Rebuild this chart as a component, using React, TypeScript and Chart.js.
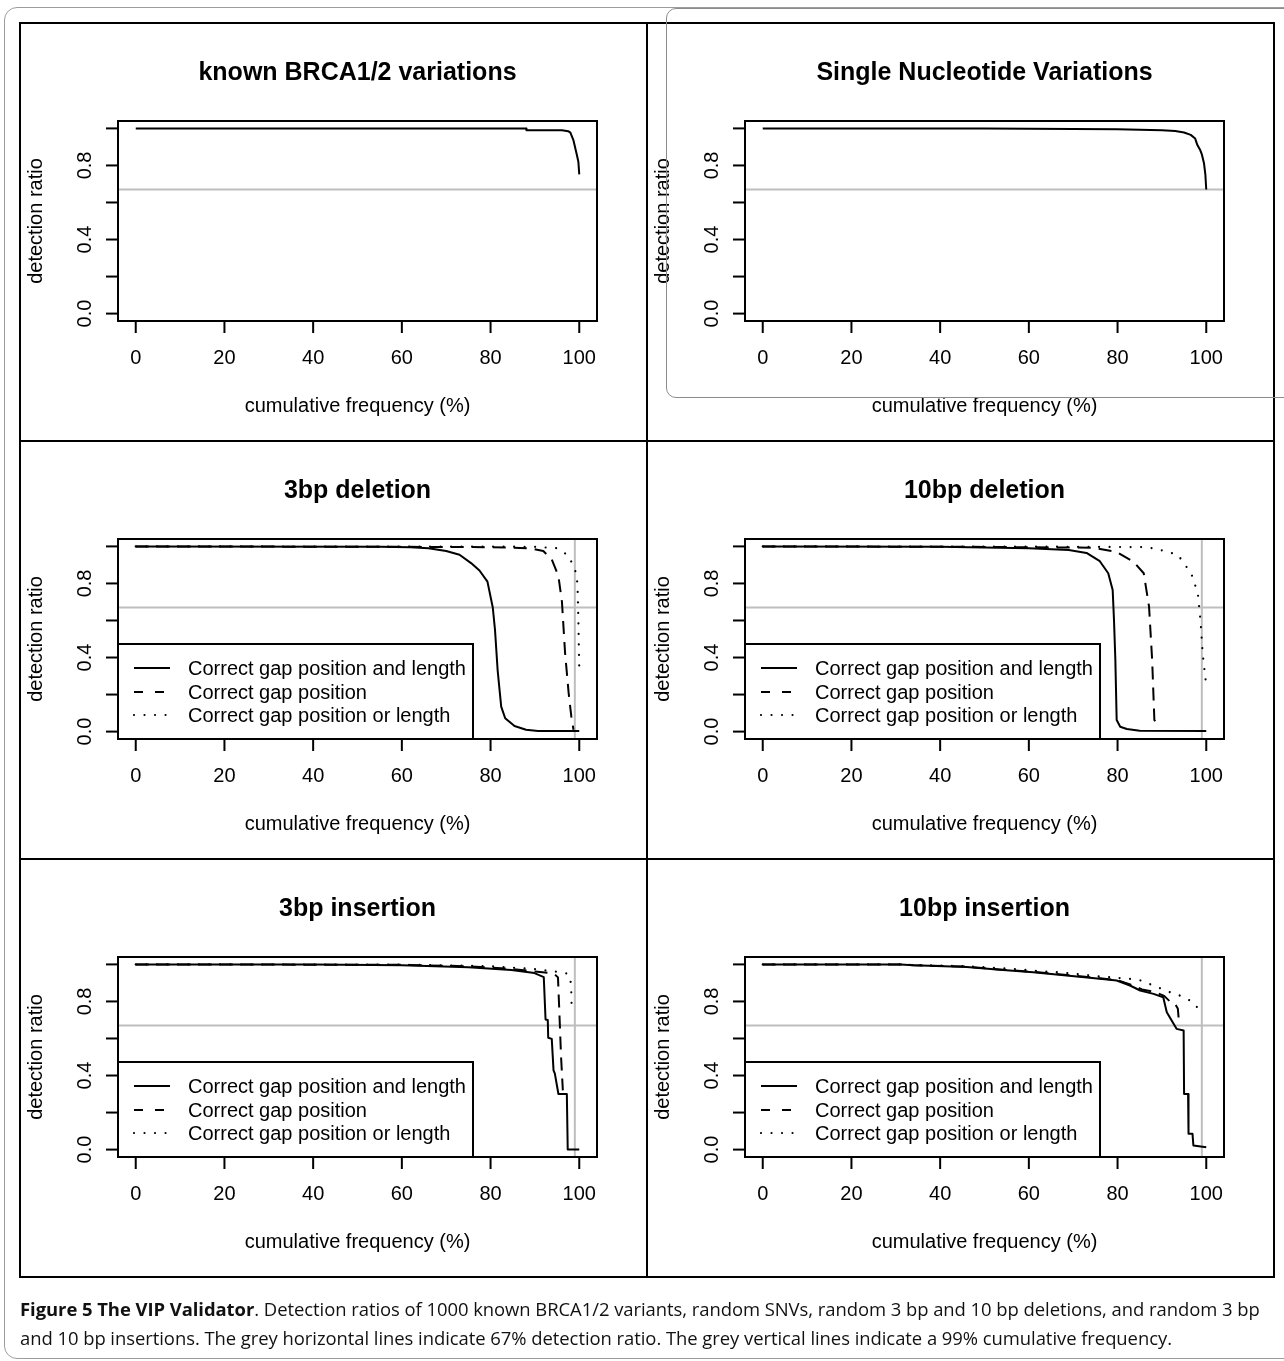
import React, { useEffect, useRef } from "react";
import { Chart, registerables } from "chart.js";

Chart.register(...registerables);

// ---------- axes / reference values ----------
const X_TICKS = [0, 20, 40, 60, 80, 100];
const Y_TICKS = [0, 0.2, 0.4, 0.6, 0.8, 1.0];
const Y_TICK_LABELS = ["0.0", "", "0.4", "", "0.8", ""];
const DETECTION_THRESHOLD = 0.67;
const FREQUENCY_THRESHOLD = 99;
const X_LABEL = "cumulative frequency (%)";
const Y_LABEL = "detection ratio";
const LEGEND_LABELS = [
  "Correct gap position and length",
  "Correct gap position",
  "Correct gap position or length",
];

// ---------- data ----------
// known BRCA1/2 variations
const brcaX = [0, 88, 88.1, 96.1, 97.5, 98, 98.7, 99.4, 99.8, 100];
const brcaY = [1, 1, 0.99, 0.99, 0.985, 0.977, 0.935, 0.863, 0.82, 0.752];

// Single Nucleotide Variations
const snvX = [0, 50, 70, 80, 90, 93, 95, 96.5, 97.5, 98, 98.6, 99, 99.5, 99.8, 100];
const snvY = [1, 1, 0.997, 0.995, 0.99, 0.986, 0.978, 0.965, 0.945, 0.91, 0.885, 0.86, 0.81, 0.75, 0.67];

// 3bp deletion
const del3SolidX = [0, 55, 62, 66, 70, 73, 75.6, 77.5, 79.3, 80.5, 81, 81.6, 82.4, 83.3, 85.4, 88, 90.7, 100];
const del3SolidY = [1, 0.998, 0.995, 0.99, 0.975, 0.955, 0.91, 0.87, 0.81, 0.67, 0.55, 0.33, 0.135, 0.072, 0.03, 0.01, 0.003, 0.003];
const del3DashX = [0, 55, 80, 89, 91.9, 93.8, 95.3, 96.1, 96.8, 97.6, 98.2, 98.7];
const del3DashY = [1, 0.998, 0.996, 0.99, 0.975, 0.93, 0.84, 0.7, 0.425, 0.21, 0.083, 0.01];
const del3DotX = [0, 80, 90, 95, 97.6, 99.1, 99.6, 99.8, 100];
const del3DotY = [1, 0.999, 0.998, 0.99, 0.95, 0.87, 0.8, 0.6, 0.34];

// 10bp deletion
const del10SolidX = [0, 40, 60, 69, 73, 76, 77.9, 78.9, 79.2, 79.5, 79.8, 80.6, 82.1, 85, 100];
const del10SolidY = [1, 0.998, 0.99, 0.98, 0.965, 0.92, 0.855, 0.765, 0.6, 0.39, 0.063, 0.026, 0.014, 0.005, 0.003];
const del10DashX = [0, 45, 74.5, 79.8, 83.6, 85.9, 87.1, 87.8, 88.3, 89.3];
const del10DashY = [1, 0.998, 0.993, 0.97, 0.917, 0.855, 0.675, 0.387, 0.063, 0.018];
const del10DotX = [0, 60, 86.7, 89.8, 93.6, 96.6, 98.1, 98.7, 99.2, 99.9];
const del10DotY = [1, 0.999, 0.996, 0.98, 0.955, 0.855, 0.747, 0.6, 0.42, 0.27];

// 3bp insertion
const ins3SolidX = [0, 40, 60, 75, 84.7, 89.9, 92.0, 92.4, 92.9, 93.0, 93.8, 94.2, 94.5, 95.3, 97.2, 97.4, 100];
const ins3SolidY = [1, 0.999, 0.995, 0.985, 0.97, 0.953, 0.931, 0.703, 0.7, 0.604, 0.598, 0.428, 0.41, 0.3, 0.3, 0.001, 0.001];
const ins3DashX = [0, 60, 75, 85, 90, 93, 94.5, 95.2, 95.5, 95.9, 96.3];
const ins3DashY = [1, 0.998, 0.99, 0.975, 0.962, 0.955, 0.945, 0.93, 0.75, 0.5, 0.32];
const ins3DotX = [0, 60, 80, 90, 95, 97.4, 98.0, 98.2, 98.3];
const ins3DotY = [1, 0.999, 0.99, 0.975, 0.96, 0.95, 0.93, 0.85, 0.745];

// 10bp insertion
const ins10SolidX = [0, 31, 34, 46, 53.4, 61, 68.5, 76, 79.8, 82.8, 85.1, 88.1, 90.3, 91.1, 92.2, 93.3, 94.9, 95.0, 95.9, 96.0, 96.9, 97.1, 100];
const ins10SolidY = [1, 1, 0.995, 0.986, 0.971, 0.958, 0.94, 0.922, 0.913, 0.886, 0.859, 0.841, 0.823, 0.742, 0.697, 0.652, 0.643, 0.3, 0.3, 0.085, 0.085, 0.022, 0.013];
const ins10DashX = [0, 31, 34, 46, 53.4, 61, 68.5, 76, 80, 83, 85.5, 88.5, 90.5, 91.8, 92.9, 93.6, 93.8];
const ins10DashY = [1, 1, 0.996, 0.988, 0.973, 0.96, 0.943, 0.925, 0.915, 0.89, 0.865, 0.85, 0.83, 0.8, 0.79, 0.76, 0.7];
const ins10DotX = [0, 31, 34, 46, 55, 62, 68, 76, 82.8, 85, 88.1, 91.8, 94, 97.1, 99];
const ins10DotY = [1, 1, 0.997, 0.99, 0.978, 0.965, 0.955, 0.935, 0.922, 0.915, 0.886, 0.85, 0.832, 0.796, 0.735];

type Series = { x: number[]; y: number[] };
type PanelDef = { title: string; series: Series[]; legend: boolean; vline: boolean };

const PANELS: PanelDef[] = [
  { title: "known BRCA1/2 variations", series: [{ x: brcaX, y: brcaY }], legend: false, vline: false },
  { title: "Single Nucleotide Variations", series: [{ x: snvX, y: snvY }], legend: false, vline: false },
  {
    title: "3bp deletion",
    series: [
      { x: del3SolidX, y: del3SolidY },
      { x: del3DashX, y: del3DashY },
      { x: del3DotX, y: del3DotY },
    ],
    legend: true,
    vline: true,
  },
  {
    title: "10bp deletion",
    series: [
      { x: del10SolidX, y: del10SolidY },
      { x: del10DashX, y: del10DashY },
      { x: del10DotX, y: del10DotY },
    ],
    legend: true,
    vline: true,
  },
  {
    title: "3bp insertion",
    series: [
      { x: ins3SolidX, y: ins3SolidY },
      { x: ins3DashX, y: ins3DashY },
      { x: ins3DotX, y: ins3DotY },
    ],
    legend: true,
    vline: true,
  },
  {
    title: "10bp insertion",
    series: [
      { x: ins10SolidX, y: ins10SolidY },
      { x: ins10DashX, y: ins10DashY },
      { x: ins10DotX, y: ins10DotY },
    ],
    legend: true,
    vline: true,
  },
];

// ---------- styling ----------
const PANEL_W = 627;
const PANEL_H = 418;
const FONT = '"Liberation Sans", Arial, Helvetica, sans-serif';
const GREY = "#bebebe";
const LINE_STYLES = [
  { dash: [] as number[], cap: "butt", width: 2 },
  { dash: [13, 8], cap: "butt", width: 2 },
  { dash: [0.01, 10.5], cap: "round", width: 2.2 },
];
const LEGEND_DASH = [
  [] as number[],
  [9, 12],
  [0.01, 10.5],
];

function makePlugin(panel: PanelDef) {
  return {
    id: "rstyle",
    beforeDatasetsDraw(chart: any) {
      const { ctx, chartArea: a, scales } = chart;
      ctx.save();
      ctx.strokeStyle = GREY;
      ctx.lineWidth = 2;
      const yy = scales.y.getPixelForValue(DETECTION_THRESHOLD);
      ctx.beginPath();
      ctx.moveTo(a.left, yy);
      ctx.lineTo(a.right, yy);
      ctx.stroke();
      if (panel.vline) {
        const xx = scales.x.getPixelForValue(FREQUENCY_THRESHOLD);
        ctx.beginPath();
        ctx.moveTo(xx, a.top);
        ctx.lineTo(xx, a.bottom);
        ctx.stroke();
      }
      ctx.restore();
    },
    afterDraw(chart: any) {
      const { ctx, chartArea: a, scales } = chart;
      ctx.save();
      ctx.strokeStyle = "#000";
      ctx.fillStyle = "#000";
      ctx.lineWidth = 2;
      ctx.setLineDash([]);

      // legend
      if (panel.legend) {
        const lx = a.left;
        const lw = 355;
        const lh = 95;
        const ly = a.bottom - lh;
        ctx.fillStyle = "#fff";
        ctx.fillRect(lx, ly, lw, lh);
        ctx.fillStyle = "#000";
        ctx.strokeRect(lx, ly, lw, lh);
        ctx.font = `20px ${FONT}`;
        ctx.textAlign = "left";
        ctx.textBaseline = "middle";
        const rows = [a.bottom - 71, a.bottom - 47, a.bottom - 24];
        LEGEND_LABELS.forEach((lab, i) => {
          const st = LINE_STYLES[i];
          ctx.save();
          ctx.lineWidth = st.width;
          ctx.lineCap = st.cap as CanvasLineCap;
          ctx.setLineDash(LEGEND_DASH[i]);
          ctx.beginPath();
          ctx.moveTo(lx + 16, rows[i]);
          ctx.lineTo(lx + 52, rows[i]);
          ctx.stroke();
          ctx.restore();
          ctx.fillText(lab, lx + 70, rows[i] + 1);
        });
      }

      // box
      ctx.strokeRect(a.left, a.top, a.right - a.left, a.bottom - a.top);

      // x ticks
      ctx.font = `20px ${FONT}`;
      ctx.textAlign = "center";
      ctx.textBaseline = "middle";
      X_TICKS.forEach((v) => {
        const px = scales.x.getPixelForValue(v);
        ctx.beginPath();
        ctx.moveTo(px, a.bottom);
        ctx.lineTo(px, a.bottom + 12);
        ctx.stroke();
        ctx.fillText(String(v), px, a.bottom + 37);
      });

      // y ticks
      Y_TICKS.forEach((v, i) => {
        const py = scales.y.getPixelForValue(v);
        ctx.beginPath();
        ctx.moveTo(a.left - 12, py);
        ctx.lineTo(a.left, py);
        ctx.stroke();
        if (Y_TICK_LABELS[i]) {
          ctx.save();
          ctx.translate(a.left - 33, py);
          ctx.rotate(-Math.PI / 2);
          ctx.fillText(Y_TICK_LABELS[i], 0, 0);
          ctx.restore();
        }
      });

      const cx = (a.left + a.right) / 2;
      // x label
      ctx.fillText(X_LABEL, cx, 383);
      // y label
      ctx.save();
      ctx.translate(16, (a.top + a.bottom) / 2);
      ctx.rotate(-Math.PI / 2);
      ctx.fillText(Y_LABEL, 0, 0);
      ctx.restore();

      // title
      ctx.font = `bold 25px ${FONT}`;
      ctx.fillText(panel.title, cx, 50);
      ctx.restore();
    },
  };
}

function Panel({ panel, left, top }: { panel: PanelDef; left: number; top: number }) {
  const ref = useRef<HTMLCanvasElement | null>(null);
  useEffect(() => {
    if (!ref.current) return;
    const chart = new Chart(ref.current, {
      type: "line",
      data: {
        datasets: panel.series.map((s, i) => ({
          data: s.x.map((xv, k) => ({ x: xv, y: s.y[k] })),
          borderColor: "#000",
          borderWidth: LINE_STYLES[i].width,
          borderDash: LINE_STYLES[i].dash,
          borderCapStyle: LINE_STYLES[i].cap as any,
          borderJoinStyle: "round",
          pointRadius: 0,
          tension: 0,
          fill: false,
        })),
      },
      options: {
        responsive: false,
        animation: false,
        devicePixelRatio: 1,
        events: [],
        layout: { padding: { left: 98, right: 50, top: 98, bottom: 120 } },
        scales: {
          x: { type: "linear", min: -4, max: 104, display: false },
          y: { type: "linear", min: -0.04, max: 1.04, display: false },
        },
        plugins: { legend: { display: false }, tooltip: { enabled: false } },
      },
      plugins: [makePlugin(panel)],
    });
    return () => chart.destroy();
  }, [panel]);
  return (
    <canvas
      ref={ref}
      width={PANEL_W}
      height={PANEL_H}
      style={{ position: "absolute", left, top, width: PANEL_W, height: PANEL_H, display: "block" }}
    />
  );
}

export default function App() {
  const captionFont = '"Open Sans", "Noto Sans", sans-serif';
  return (
    <div
      style={{
        position: "fixed",
        left: 0,
        top: 0,
        width: 1284,
        height: 1361,
        overflow: "hidden",
        background: "#fff",
      }}
    >
      {PANELS.map((p, i) => (
        <Panel key={i} panel={p} left={20 + PANEL_W * (i % 2)} top={23 + PANEL_H * Math.floor(i / 2)} />
      ))}
      {/* frame */}
      <div style={{ position: "absolute", left: 19, top: 22, width: 1256, height: 1256, border: "2px solid #000", boxSizing: "border-box" }} />
      <div style={{ position: "absolute", left: 646, top: 22, width: 2, height: 1256, background: "#000" }} />
      <div style={{ position: "absolute", left: 19, top: 440, width: 1256, height: 2, background: "#000" }} />
      <div style={{ position: "absolute", left: 19, top: 858, width: 1256, height: 2, background: "#000" }} />
      {/* grey rounded outlines */}
      <div style={{ position: "absolute", left: 4, top: 7, width: 1320, height: 1352, border: "1px solid #9c9c9c", borderRadius: 13, boxSizing: "border-box" }} />
      <div style={{ position: "absolute", left: 666, top: 8, width: 700, height: 390, border: "1px solid #8c8c8c", borderRadius: 10, boxSizing: "border-box" }} />
      {/* caption */}
      <div
        style={{
          position: "absolute",
          left: 20,
          top: 1294,
          fontFamily: captionFont,
          fontSize: 18.45,
          lineHeight: "29px",
          color: "#111",
          whiteSpace: "nowrap",
          letterSpacing: "-0.05px",
        }}
      >
        <span style={{ fontWeight: 700 }}>Figure 5 The VIP Validator</span>. Detection ratios of 1000 known BRCA1/2
        variants, random SNVs, random 3 bp and 10 bp deletions, and random 3 bp
        <br />
        and 10 bp insertions. The grey horizontal lines indicate 67% detection ratio. The grey vertical lines indicate a
        99% cumulative frequency.
      </div>
    </div>
  );
}
